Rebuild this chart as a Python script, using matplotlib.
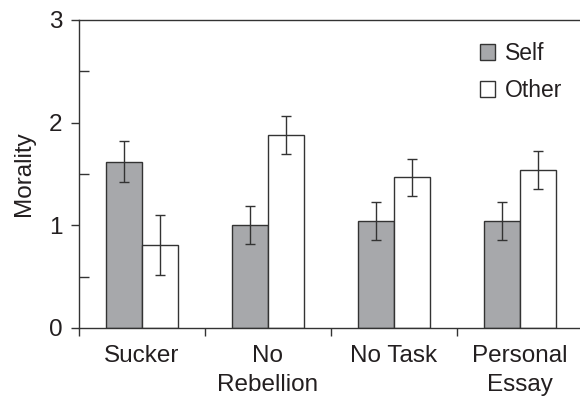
import matplotlib
matplotlib.use("Agg")
import matplotlib.pyplot as plt
import numpy as np
from matplotlib.ticker import MultipleLocator

plt.rcParams['font.family'] = ['Liberation Sans', 'DejaVu Sans']

categories = ["Sucker", "No\nRebellion", "No Task", "Personal\nEssay"]
self_vals = [1.62, 1.00, 1.04, 1.04]
self_err = [0.20, 0.185, 0.185, 0.185]
other_vals = [0.81, 1.88, 1.47, 1.54]
other_err = [0.29, 0.185, 0.18, 0.185]

txt = '#231f20'
fs = 17.5
fig = plt.figure(figsize=(5.8, 4.01), dpi=100)
ax = fig.add_axes([79/580, 1-328/401, (583-79)/580, (328-20)/401])

x = np.arange(len(categories))
w = 0.286
ax.bar(x - w/2, self_vals, w, color='#a7a8ab', edgecolor='#333333', linewidth=1.0, label='Self', zorder=2)
ax.bar(x + w/2, other_vals, w, color='white', edgecolor='#333333', linewidth=1.0, label='Other', zorder=2)
ax.errorbar(x - w/2, self_vals, yerr=self_err, fmt='none', ecolor='#333333', elinewidth=1.0, capsize=3.5, capthick=1.0, zorder=3)
ax.errorbar(x + w/2, other_vals, yerr=other_err, fmt='none', ecolor='#333333', elinewidth=1.0, capsize=3.5, capthick=1.0, zorder=3)

ax.set_xlim(-0.5, 3.5)
ax.set_ylim(0, 3)
ax.spines['right'].set_visible(False)
for s in ['left', 'bottom', 'top']:
    ax.spines[s].set_color('#333333')
    ax.spines[s].set_linewidth(1.0)
ax.spines['top'].set_bounds(-0.5, 3.6)

ax.set_yticks([0, 1, 2, 3])
ax.yaxis.set_minor_locator(MultipleLocator(0.5))
ax.tick_params(axis='y', which='major', direction='out', length=6, width=1.0, color='#333333',
               labelsize=fs, labelcolor=txt, pad=6)
ax.tick_params(axis='y', which='minor', direction='in', length=7.2, width=1.0, color='#333333')

ax.set_xticks([-0.5, 0.5, 1.5, 2.5])
ax.set_xticklabels([])
ax.tick_params(axis='x', which='major', direction='out', length=6, width=1.0, color='#333333')
for xi, c in zip(x, categories):
    ax.text(xi, -0.165, c, ha='center', va='top', fontsize=fs, color=txt, linespacing=1.4,
            transform=ax.transData)

ax.set_ylabel('Morality', fontsize=fs, color=txt, labelpad=10)

leg = ax.legend(loc='upper right', bbox_to_anchor=(1.0, 0.995), frameon=False, fontsize=16.5,
                handlelength=0.65, handleheight=0.65, handletextpad=0.45, labelspacing=0.6,
                labelcolor=txt)

fig.savefig('out.png', dpi=100)
